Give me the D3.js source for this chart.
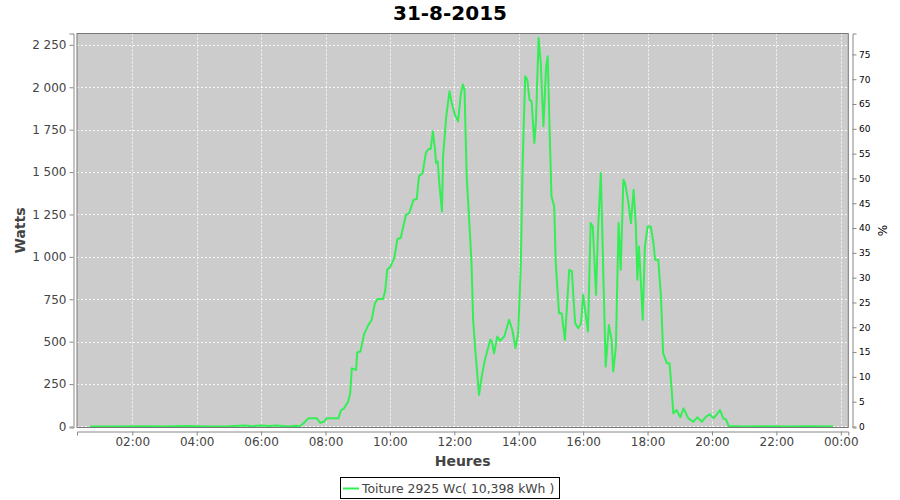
<!DOCTYPE html>
<html><head><meta charset="utf-8">
<script src="https://cdn.jsdelivr.net/npm/d3@7"></script>
<style>body{margin:0;background:#fff}svg{display:block;font-family:"DejaVu Sans",sans-serif}</style>
</head><body><svg id="c" width="900" height="500"></svg>
<script>
const chartTitle = "31-8-2015";
const seriesName = "Toiture 2925 Wc( 10,398 kWh )";
const xAxisTitle = "Heures";
const yAxisTitle = "Watts";
const y2AxisTitle = "%";
const peakPower = 2925;

const times = [
 "00:41","01:30","02:20","03:00","03:40","04:20","05:00","05:30","05:45","06:00",
 "06:15","06:30","06:50","07:05",
 "07:12","07:19","07:28","07:44","07:50","07:57","08:02","08:24","08:29","08:34",
 "08:42","08:46","08:49","08:57","08:59","09:05","09:12","09:20","09:26","09:32",
 "09:37","09:47","09:51","09:55","10:01","10:08","10:14","10:20","10:30","10:36",
 "10:44","10:50","10:54","11:01","11:07","11:12","11:16","11:20","11:24","11:26",
 "11:29","11:32","11:37","11:39","11:45","11:51","11:55","12:01","12:07","12:12",
 "12:16","12:19","12:23","12:29","12:32","12:35","12:39","12:46","12:51","12:57",
 "13:07","13:10","13:14","13:20","13:25","13:33","13:42","13:48","13:54","13:59",
 "14:04","14:07","14:12","14:16","14:20","14:24","14:29","14:32","14:37","14:41",
 "14:46","14:51","14:54","14:58","15:01","15:06","15:09","15:15","15:20","15:26",
 "15:34","15:39","15:45","15:51","15:56","16:00","16:09","16:14","16:18","16:24",
 "16:28","16:33","16:38","16:42","16:48","16:53","16:56","17:01","17:06","17:10",
 "17:15","17:18","17:24","17:29","17:34","17:38","17:41","17:44","17:48","17:51",
 "17:55","18:00","18:06","18:11","18:14","18:20","18:25","18:29","18:36","18:41",
 "18:45","18:48","18:54","19:01","19:07","19:16","19:25","19:33","19:41","19:49",
 "19:56","20:03","20:15","20:21","20:26","20:31",
 "21:00","21:40","22:20","23:00","23:46"
];
const watts = [
 0,0,2,0,3,0,2,6,2,6,
 3,6,0,4,
 0,19,48,48,22,28,48,48,97,105,
 146,196,343,333,436,442,546,599,629,727,
 751,751,796,924,943,993,1105,1111,1248,1258,
 1337,1341,1475,1495,1613,1636,1636,1740,1632,1554,
 1563,1436,1268,1593,1829,1976,1908,1839,1799,1957,
 2016,1986,1475,1140,963,629,452,186,294,393,
 511,501,432,530,506,530,629,570,462,550,
 963,1514,2065,2045,1927,1917,1672,1790,2291,2144,
 1770,2124,2183,1691,1357,1298,963,668,668,511,
 924,914,609,580,609,776,560,1199,1179,776,
 1179,1495,845,353,599,511,324,471,1199,924,
 1455,1436,1327,1199,1396,1199,865,1061,825,629,
 1061,1179,1179,1081,983,983,766,432,373,373,
 215,78,97,54,107,48,28,54,28,58,
 72,48,97,48,42,3,
 0,2,0,2,0
];
const xTickHours = [2,4,6,8,10,12,14,16,18,20,22,24];
const yTicks = [0,250,500,750,1000,1250,1500,1750,2000,2250];
const pctTicks = [0,5,10,15,20,25,30,35,40,45,50,55,60,65,70,75];

const day = (h, m) => new Date(2015, 7, 31, h, m);
const parseT = s => { const [h, m] = s.split(":").map(Number); return day(h, m); };
const data = times.map((t, i) => ({ t: parseT(t), w: watts[i] }));

const L = 77, R = 848.3, T = 33.5, B = 427.5;
const svg = d3.select("#c");
svg.append("rect").attr("width", 900).attr("height", 500).attr("fill", "#fff");

const x = d3.scaleTime().domain([day(0, 17), day(24, 14)]).range([L, R]);
const y = d3.scaleLinear().domain([-6, 2317]).range([B, T]);
const y2 = d3.scaleLinear().domain(y.domain().map(v => v / peakPower * 100)).range([B, T]);

const loc = d3.formatLocale({ decimal: ",", thousands: " ", grouping: [3], currency: ["", " €"] });
const fmtW = loc.format(",d");

// plot background
svg.append("rect").attr("x", L).attr("y", T).attr("width", R - L).attr("height", B - T).attr("fill", "#cccccc");

// grid
const grid = svg.append("g").attr("stroke", "#fff").attr("stroke-opacity", 0.85).attr("stroke-dasharray", "2,2").attr("stroke-width", 1);
const xTickDates = xTickHours.map(h => day(h, 0));
grid.selectAll("line.v").data(xTickDates).join("line")
  .attr("x1", d => Math.round(x(d)) + 0.5).attr("x2", d => Math.round(x(d)) + 0.5)
  .attr("y1", T).attr("y2", B);
grid.selectAll("line.h").data(yTicks).join("line")
  .attr("y1", d => Math.round(y(d)) + 0.5).attr("y2", d => Math.round(y(d)) + 0.5)
  .attr("x1", L).attr("x2", R);

// clip
svg.append("clipPath").attr("id", "clip").append("rect").attr("x", L).attr("y", T).attr("width", R - L).attr("height", B - T);

// line
const line = d3.line().x(d => x(d.t)).y(d => y(d.w));
svg.append("path").datum(data).attr("clip-path", "url(#clip)")
  .attr("fill", "none").attr("stroke", "#33ee55").attr("stroke-width", 2)
  .attr("stroke-linejoin", "round").attr("d", line);

// plot border
svg.append("rect").attr("x", L).attr("y", T).attr("width", R - L).attr("height", B - T)
  .attr("fill", "none").attr("stroke", "#777").attr("stroke-width", 1);

// axes
const styleAxis = (g, color, size) => {
  g.select(".domain").attr("stroke", "#888");
  g.selectAll(".tick line").attr("stroke", "#888");
  g.selectAll(".tick text").attr("fill", color).style("font-size", size + "px").style("font-family", '"DejaVu Sans",sans-serif');
};
const gx = svg.append("g").attr("transform", "translate(0,431.5)")
  .call(d3.axisBottom(x).tickValues(xTickDates).tickFormat(d3.timeFormat("%H:%M")).tickSizeOuter(0).tickSize(4).tickPadding(2));
styleAxis(gx, "#444", 12);
const gy = svg.append("g").attr("transform", "translate(73.5,0)")
  .call(d3.axisLeft(y).tickValues(yTicks).tickFormat(fmtW).tickSizeOuter(0).tickSize(4).tickPadding(3));
styleAxis(gy, "#444", 12);
const gy2 = svg.append("g").attr("transform", "translate(852.5,0)")
  .call(d3.axisRight(y2).tickValues(pctTicks).tickFormat(d3.format("d")).tickSizeOuter(0).tickSize(4).tickPadding(2.5));
styleAxis(gy2, "#000", 9);

// titles
svg.append("text").attr("x", 450).attr("y", 20).attr("text-anchor", "middle")
  .style("font-weight", "bold").style("font-size", "20px").attr("fill", "#000").text(chartTitle);
svg.append("text").attr("x", (L + R) / 2).attr("y", 466).attr("text-anchor", "middle")
  .style("font-weight", "bold").style("font-size", "14px").attr("fill", "#444").text(xAxisTitle);
svg.append("text").attr("transform", `translate(25,${(T + B) / 2}) rotate(-90)`).attr("text-anchor", "middle")
  .style("font-weight", "bold").style("font-size", "14px").attr("fill", "#444").text(yAxisTitle);
svg.append("text").attr("transform", `translate(887,${(T + B) / 2}) rotate(-90)`).attr("text-anchor", "middle")
  .style("font-size", "12px").attr("fill", "#000").text(y2AxisTitle);

// legend
const lg = svg.append("g");
lg.append("rect").attr("x", 340.5).attr("y", 477.5).attr("width", 219).attr("height", 21)
  .attr("fill", "#fff").attr("stroke", "#000");
lg.append("line").attr("x1", 343).attr("x2", 359).attr("y1", 488.5).attr("y2", 488.5)
  .attr("stroke", "#33ee55").attr("stroke-width", 2);
lg.append("text").attr("x", 362).attr("y", 492.5).style("font-size", "12.4px").attr("fill", "#444").text(seriesName);
</script></body></html>
